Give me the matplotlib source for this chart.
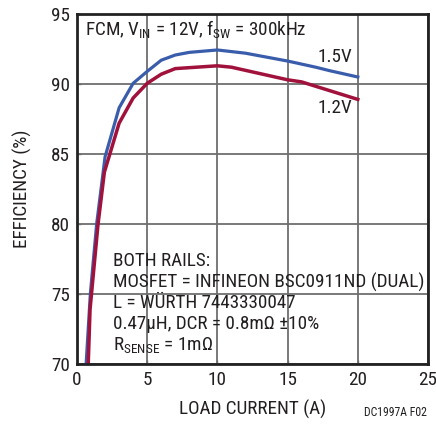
import numpy as np
import matplotlib
matplotlib.use('Agg')
import matplotlib.pyplot as plt
from matplotlib.patches import Rectangle

plt.rcParams['font.family'] = ['Roboto Condensed', 'DejaVu Sans']
plt.rcParams['mathtext.fontset'] = 'custom'
plt.rcParams['mathtext.rm'] = 'Roboto Condensed'
plt.rcParams['mathtext.it'] = 'Roboto Condensed'
plt.rcParams['text.color'] = '#231f20'
plt.rcParams['xtick.labelcolor'] = '#231f20'
plt.rcParams['ytick.labelcolor'] = '#231f20'
plt.rcParams['axes.labelcolor'] = '#231f20'

# 1.5V rail
i_15 = [0.65, 0.95, 1.4, 2.0, 3, 4, 5, 6, 7, 8, 10, 12, 15, 17, 18, 20]
eff_15 = [70, 75, 80, 84.8, 88.3, 90.05, 90.9, 91.7, 92.07, 92.26, 92.43, 92.2, 91.64, 91.2, 90.95, 90.5]

# 1.2V rail
i_12 = [0.8, 0.93, 1.5, 1.95, 3, 4, 5, 6, 7, 10, 11, 15, 16, 20]
eff_12 = [70, 73.9, 80, 83.7, 87.2, 89.0, 90.05, 90.7, 91.1, 91.3, 91.2, 90.3, 90.15, 88.9]

xticks = [0, 5, 10, 15, 20, 25]
yticks = [70, 75, 80, 85, 90, 95]

notes = ['BOTH RAILS:',
         'MOSFET = INFINEON BSC0911ND (DUAL)',
         'L = WÜRTH 7443330047',
         '0.47µH, DCR = 0.8mΩ ±10%',
         r'R$_{\rm SENSE}$ = 1mΩ']

blue = '#3a5dab'
red = '#a0123c'
fs = 13.8

fig = plt.figure(figsize=(4.36, 4.24), dpi=100)
ax = fig.add_axes([77/436, 1 - 364/424, 351/436, 350/424])

ax.set_xlim(0, 25)
ax.set_ylim(70, 95)
ax.set_xticks(xticks)
ax.set_yticks(yticks)
ax.grid(True, color='#6e6e6e', lw=1.3, zorder=0)
ax.tick_params(direction='in', length=3, width=1, color='#6e6e6e', labelsize=fs, pad=5)
for s in ax.spines.values():
    s.set_linewidth(2)
    s.set_color('#222222')
    s.set_zorder(5)

# white boxes behind text blocks
ax.add_patch(Rectangle((0.1, 92.75), 17.2, 2.2, facecolor='white', edgecolor='none', zorder=1))
ax.add_patch(Rectangle((2.3, 70.15), 22.6, 8.3, facecolor='white', edgecolor='none', zorder=1))

ax.plot(i_15, eff_15, color=blue, lw=2.3, zorder=3)
ax.plot(i_12, eff_12, color=red, lw=2.5, zorder=3)

ax.text(0.55, 93.95, r'FCM, V$_{\rm IN}$ = 12V, f$_{\rm SW}$ = 300kHz', fontsize=fs,
        va='center', ha='left', zorder=4)
ax.text(19.6, 91.9, '1.5V', fontsize=fs, ha='right', va='center', zorder=4)
ax.text(19.6, 88.3, '1.2V', fontsize=fs, ha='right', va='center', zorder=4)

for k, line in enumerate(notes):
    ax.text(2.55, 77.35 - k * 1.5, line, fontsize=fs, ha='left', va='center', zorder=4)

ax.set_xlabel('LOAD CURRENT (A)', fontsize=fs, labelpad=8)
ax.set_ylabel('EFFICIENCY (%)', fontsize=fs, labelpad=14)
fig.text(427/436, 1 - 412/424, 'DC1997A F02', fontsize=8.5, ha='right', va='center')

fig.savefig('out.png', dpi=100)
